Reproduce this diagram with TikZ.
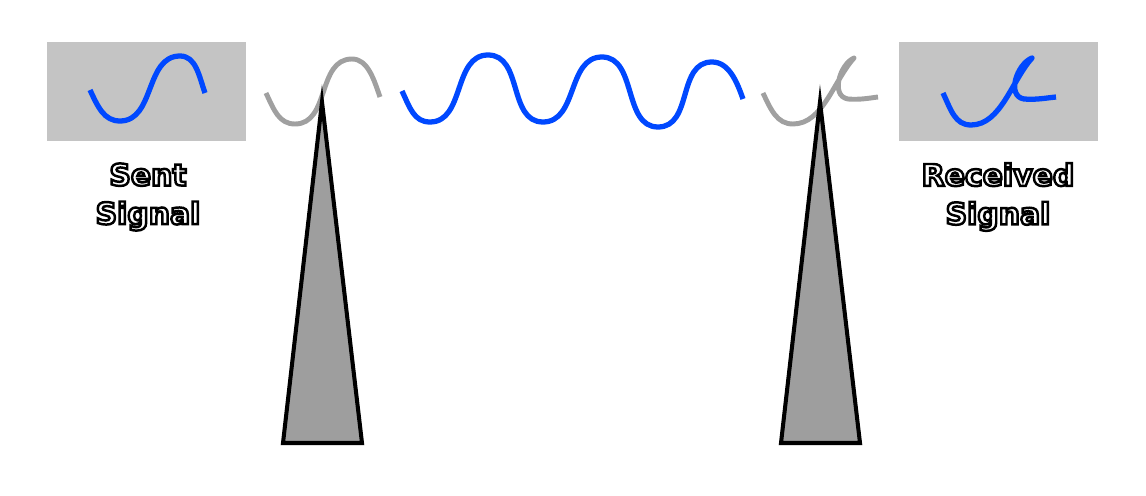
\documentclass[tikz,border=0pt]{standalone}
\usepackage{fontspec}
\setsansfont{DejaVu Sans}
\definecolor{sigblue}{RGB}{0,72,255}
\definecolor{waveGray}{RGB}{160,160,160}
\definecolor{boxGray}{RGB}{196,196,196}
\definecolor{mastGray}{RGB}{158,158,158}
\tikzset{
  sigbox/.style={fill=boxGray, draw=none, minimum width=3.98cm, minimum height=1.98cm, inner sep=0pt},
  sigwave/.style={draw=sigblue, line width=3pt, line join=round},
  airwave/.style={draw=waveGray, line width=2.8pt, line join=round},
  mast/.style={fill=mastGray, draw=black, line width=2.3pt, line join=miter},
  caption/.style={font=\sffamily\bfseries\fontsize{17}{22}\selectfont, text=white, align=center, inner sep=0pt}
}
% white letters with a black rim (fill + stroke render mode)
\newcommand{\outlined}[1]{\special{pdf:literal direct 2 Tr 0 G 1.4 w}#1\special{pdf:literal direct 0 Tr}}
\begin{document}
\begin{tikzpicture}[x=0.02cm, y=-0.02cm]
  \useasboundingbox (0,0) rectangle (1146,496);
  % boxes
  \node[sigbox] (sent) at (146.5,91.5) {};
  \node[sigbox] (recv) at (998.5,91.5) {};
  % sent signal
  \draw[sigwave] (90,90) .. controls +(8,17) and +(-16,0) .. (120,121)
    .. controls +(35,0) and +(-35,0) .. (180,56)
    .. controls +(16,0) and +(-6,-17) .. (205,93);
  % leaving wave
  \draw[airwave] (266,93) .. controls +(8,17) and +(-16,0) .. (295,124)
    .. controls +(35,0) and +(-35,0) .. (352,59)
    .. controls +(16,0) and +(-6,-17) .. (380,97);
  % travelling wave
  \draw[sigwave] (402,91) .. controls +(8,17) and +(-16,0) .. (430,122)
    .. controls +(35,0) and +(-35,0) .. (488,55)
    .. controls +(35,0) and +(-35,0) .. (543,122)
    .. controls +(35,0) and +(-35,0) .. (602,57)
    .. controls +(35,0) and +(-35,0) .. (658,127)
    .. controls +(35,0) and +(-35,0) .. (712,62)
    .. controls +(17,0) and +(-6,-17) .. (743,99);
  % arriving wave
  \draw[airwave] (763,93) .. controls +(8,17) and +(-16,0) .. (793,124)
    .. controls +(30,0) and +(-20,22) .. (854,58)
    .. controls (840,64) and (830,96) .. (848,99)
    .. controls (860,100) and (870,98) .. (878,97);
  % received signal
  \draw[sigwave] (943,93) .. controls +(8,17) and +(-16,0) .. (971,125)
    .. controls +(30,0) and +(-20,22) .. (1032,58)
    .. controls (1017,64) and (1006,96) .. (1024,99)
    .. controls (1036,100) and (1046,98) .. (1056,97);
  % masts
  \coordinate (m1top) at (322,102);
  \coordinate (m1l) at (283,443);
  \coordinate (m1r) at (362,443);
  \coordinate (m2top) at (820,102);
  \coordinate (m2l) at (781,443);
  \coordinate (m2r) at (860,443);
  \draw[mast] (m1top) -- (m1r) -- (m1l) -- cycle;
  \draw[mast] (m2top) -- (m2r) -- (m2l) -- cycle;
  % captions
  \node[caption] (sentlbl) at (148,197) {\outlined{Sent}\\\outlined{Signal}};
  \node[caption] (recvlbl) at (998,197) {\outlined{Received}\\\outlined{Signal}};
\end{tikzpicture}
\end{document}
